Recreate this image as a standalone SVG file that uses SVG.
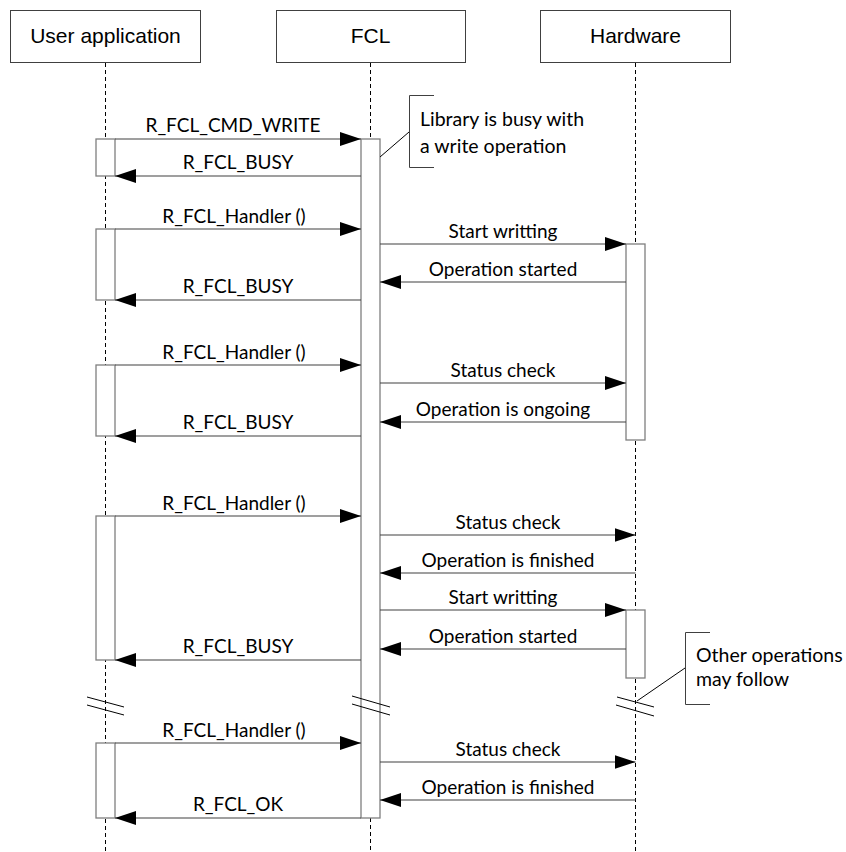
<svg xmlns="http://www.w3.org/2000/svg" width="846" height="852" viewBox="0 0 846 852">
  <style>
    .head { fill: #ffffff; stroke: #404040; stroke-width: 1; }
    .head-text { font-family: "Liberation Sans", Arial, sans-serif; font-size: 21px; fill: #000000; text-anchor: middle; }
    .life { stroke: #000000; stroke-width: 1; stroke-dasharray: 4 3; fill: none; }
    .act { fill: #ffffff; stroke: #7f7f7f; stroke-width: 1.3; }
    .msg { stroke: #404040; stroke-width: 1.2; fill: none; }
    .call { marker-end: url(#arrow); }
    .lbl { font-family: Lato, "Open Sans", sans-serif; font-size: 19px; fill: #000000; text-anchor: middle; }
    .note-text { font-family: Lato, "Open Sans", sans-serif; font-size: 19.5px; fill: #000000; }
    .bracket { fill: none; stroke: #404040; stroke-width: 1; }
    .brk { stroke: #000000; stroke-width: 1; }
  </style>
  <defs>
    <marker id="arrow" markerUnits="userSpaceOnUse" markerWidth="22" markerHeight="16" viewBox="0 0 22 16" refX="21" refY="8" orient="auto">
      <path d="M0,1 L21,8 L0,15 Z" fill="#000000"/>
    </marker>
  </defs>
  <rect width="846" height="852" fill="#ffffff"/>

  <!-- participant: User application -->
  <g id="user-application">
    <rect class="head" x="10.5" y="10.5" width="190" height="52"/>
    <text class="head-text" x="105.5" y="43">User application</text>
    <line class="life" x1="105.5" y1="63" x2="105.5" y2="852"/>
    <rect class="act" x="96" y="139" width="19" height="37"/>
    <rect class="act" x="96" y="229" width="19" height="71"/>
    <rect class="act" x="96" y="365" width="19" height="71"/>
    <rect class="act" x="96" y="516" width="19" height="144"/>
    <rect class="act" x="96" y="743" width="19" height="75"/>
  </g>

  <!-- participant: FCL -->
  <g id="fcl">
    <rect class="head" x="276.5" y="10.5" width="189" height="52"/>
    <text class="head-text" x="370.5" y="43">FCL</text>
    <line class="life" x1="370.5" y1="63" x2="370.5" y2="139"/>
    <line class="life" x1="370.5" y1="818" x2="370.5" y2="852"/>
    <rect class="act" x="361" y="139" width="19" height="679"/>
  </g>

  <!-- participant: Hardware -->
  <g id="hardware">
    <rect class="head" x="540.5" y="10.5" width="190" height="52"/>
    <text class="head-text" x="635.5" y="43">Hardware</text>
    <line class="life" x1="635.5" y1="63" x2="635.5" y2="852"/>
    <rect class="act" x="626" y="244" width="19" height="196"/>
    <rect class="act" x="626" y="610" width="19" height="68"/>
  </g>

  <!-- messages -->
  <g id="connectors">
    <line class="msg call" x1="115" y1="139" x2="361" y2="139"/>
    <text class="lbl" x="233" y="132">R_FCL_CMD_WRITE</text>
    <line class="msg call" x1="361" y1="176" x2="115" y2="176"/>
    <text class="lbl" x="238" y="169">R_FCL_BUSY</text>

    <line class="msg call" x1="115" y1="229" x2="361" y2="229"/>
    <text class="lbl" x="234" y="223">R_FCL_Handler ()</text>
    <line class="msg call" x1="380" y1="244" x2="626" y2="244"/>
    <text class="lbl" x="503" y="238">Start writting</text>
    <line class="msg call" x1="626" y1="282" x2="380" y2="282"/>
    <text class="lbl" x="503" y="276">Operation started</text>
    <line class="msg call" x1="361" y1="300" x2="115" y2="300"/>
    <text class="lbl" x="238" y="293">R_FCL_BUSY</text>

    <line class="msg call" x1="115" y1="365" x2="361" y2="365"/>
    <text class="lbl" x="234" y="359">R_FCL_Handler ()</text>
    <line class="msg call" x1="380" y1="383" x2="626" y2="383"/>
    <text class="lbl" x="503" y="377">Status check</text>
    <line class="msg call" x1="626" y1="422" x2="380" y2="422"/>
    <text class="lbl" x="503" y="416">Operation is ongoing</text>
    <line class="msg call" x1="361" y1="436" x2="115" y2="436"/>
    <text class="lbl" x="238" y="429">R_FCL_BUSY</text>

    <line class="msg call" x1="115" y1="516" x2="361" y2="516"/>
    <text class="lbl" x="234" y="510">R_FCL_Handler ()</text>
    <line class="msg call" x1="380" y1="535" x2="635.5" y2="535"/>
    <text class="lbl" x="508" y="529">Status check</text>
    <line class="msg call" x1="635.5" y1="573" x2="380" y2="573"/>
    <text class="lbl" x="508" y="567">Operation is finished</text>
    <line class="msg call" x1="380" y1="610" x2="626" y2="610"/>
    <text class="lbl" x="503" y="604">Start writting</text>
    <line class="msg call" x1="626" y1="649" x2="380" y2="649"/>
    <text class="lbl" x="503" y="643">Operation started</text>
    <line class="msg call" x1="361" y1="660" x2="115" y2="660"/>
    <text class="lbl" x="238" y="653">R_FCL_BUSY</text>

    <line class="msg call" x1="115" y1="743" x2="361" y2="743"/>
    <text class="lbl" x="234" y="737">R_FCL_Handler ()</text>
    <line class="msg call" x1="380" y1="762" x2="635.5" y2="762"/>
    <text class="lbl" x="508" y="756">Status check</text>
    <line class="msg call" x1="635.5" y1="800" x2="380" y2="800"/>
    <text class="lbl" x="508" y="794">Operation is finished</text>
    <line class="msg call" x1="361" y1="818" x2="115" y2="818"/>
    <text class="lbl" x="238" y="811">R_FCL_OK</text>
  </g>

  <!-- time-break marks -->
  <g id="breaks">
    <line class="brk" x1="87" y1="697" x2="124" y2="707"/>
    <line class="brk" x1="87" y1="705" x2="124" y2="715"/>
    <line class="brk" x1="352" y1="696" x2="390" y2="707"/>
    <line class="brk" x1="352" y1="704" x2="390" y2="715"/>
    <line class="brk" x1="617" y1="697" x2="654" y2="707"/>
    <line class="brk" x1="616" y1="705" x2="654" y2="716"/>
  </g>

  <!-- annotations -->
  <g id="note-busy">
    <path class="bracket" d="M434,95.5 H409.5 V167.5 H434"/>
    <line class="brk" x1="380" y1="157" x2="409" y2="132"/>
    <text class="note-text" x="420" y="126">Library is busy with</text>
    <text class="note-text" x="420" y="153">a write operation</text>
  </g>
  <g id="note-follow">
    <path class="bracket" d="M710,632.5 H685.5 V704.5 H710"/>
    <line class="brk" x1="637" y1="701" x2="685" y2="668"/>
    <text class="note-text" x="696" y="662">Other operations</text>
    <text class="note-text" x="696" y="686">may follow</text>
  </g>
</svg>
